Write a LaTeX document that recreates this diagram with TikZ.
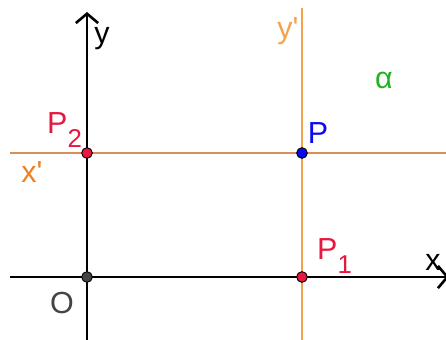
\documentclass[tikz,border=0pt]{standalone}
\usepackage{fontspec}
\setmainfont{Liberation Sans}[Ligatures=TeXOff]
\usetikzlibrary{arrows.meta}

\definecolor{ggred}{HTML}{E8173F}
\definecolor{ggblue}{HTML}{0A0AF0}
\definecolor{gggreen}{HTML}{1EB41E}
\definecolor{ggorange}{HTML}{F4A24C}
\definecolor{ggbrown}{HTML}{D88E58}
\definecolor{ggxlab}{HTML}{EE7F22}
\definecolor{gggray}{HTML}{444444}

\newcommand{\lowsub}[1]{\raisebox{-12pt}{\fontsize{22}{22}\selectfont #1}}

\begin{document}
\begin{tikzpicture}[
    x=0.03cm, y=-0.03cm,
    axis/.style={line width=2.2pt, -{Straight Barb[length=8pt, width=19pt]}},
    trace/.style={line width=1.6pt},
    pt/.style={circle, draw=black, line width=0.8pt, minimum size=3.2mm, inner sep=0pt},
    lab/.style={inner sep=0pt, font=\fontsize{26}{30}\selectfont}
]
    \useasboundingbox (0,0) rectangle (446,340);
    \clip (0,0) rectangle (446,340);

    % ends of the lines
    \coordinate (xl) at (10,277);
    \coordinate (xr) at (449,277);
    \coordinate (yb) at (87,345);
    \coordinate (yt) at (87,12);
    \coordinate (vt) at (302,8);
    \coordinate (vb) at (302,345);
    \coordinate (hl) at (10,153);
    \coordinate (hr) at (450,153);

    % orange lines through P
    \draw[trace, ggorange] (vt) -- (vb);
    \draw[trace, ggbrown] (hl) -- (hr);

    % axes
    \draw[axis] (xl) -- (xr);
    \draw[axis] (yb) -- (yt);

    % points
    \node[pt, fill=gggray] (O) at (87,277) {};
    \node[pt, fill=ggblue] (P) at (302,153) {};
    \node[pt, fill=ggred] (P1) at (302,277) {};
    \node[pt, fill=ggred] (P2) at (87,153) {};

    % labels
    \node[lab] (ly) at (102,39) {y};
    \node[lab] (lx) at (433,262) {x};
    \node[lab, gggray] (lO) at (62,303) {O};
    \node[lab, ggorange] (lyp) at (288,31) {y'};
    \node[lab, ggxlab] (lxp) at (32,172) {x'};
    \node[lab, gggreen] (lalpha) at (384,80) {α};
    \node[lab, ggblue] (lP) at (318,133) {P};
    \node[lab, ggred, anchor=base west] (lP2) at (47,133) {P\lowsub{2}};
    \node[lab, ggred, anchor=base west] (lP1) at (317,259) {P\lowsub{1}};
\end{tikzpicture}
\end{document}
